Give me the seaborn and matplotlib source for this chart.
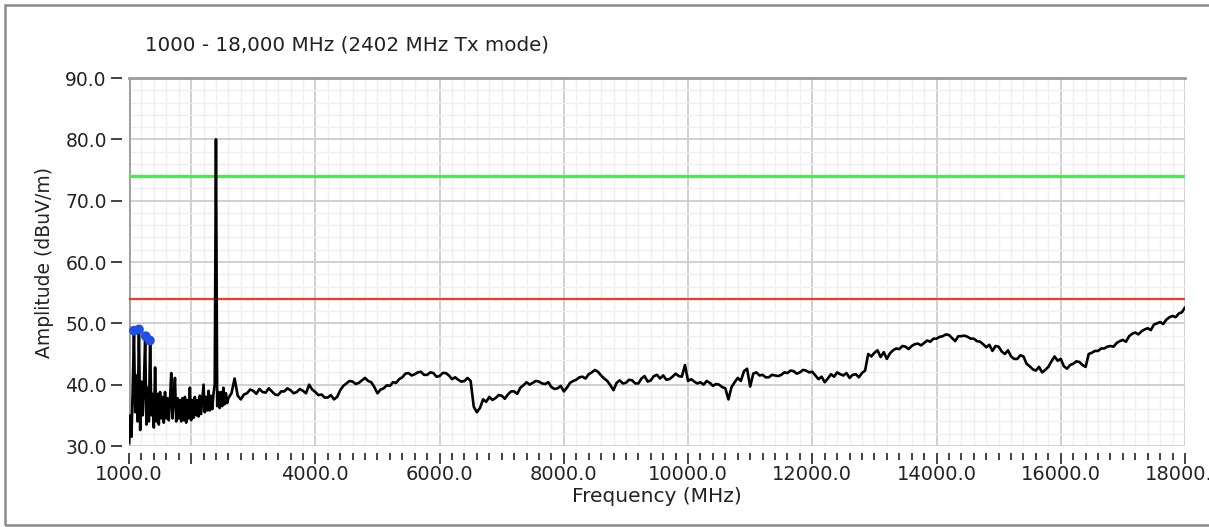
import numpy as np
import pandas as pd
import matplotlib
matplotlib.use("Agg")
import matplotlib.pyplot as plt
from matplotlib.patches import Rectangle
from matplotlib.ticker import MultipleLocator, FixedLocator, FixedFormatter
import seaborn as sns

# ---------------- data ----------------
title = "1000 - 18,000 MHz (2402 MHz Tx mode)"
x_label = "Frequency (MHz)"
y_label = "Amplitude (dBuV/m)"

# noisy low band, 20 MHz spacing (1000 .. 2580 MHz)
low_freq = list(range(1000, 2600, 20))
low_amp = [30.5, 35.0, 31.5, 39.5, 48.4, 35.5, 41.5, 34.0, 48.9, 32.6,
           40.5, 35.0, 40.0, 47.6, 33.5, 39.5, 34.0, 47.2, 35.0, 38.5,
           33.0, 42.8, 34.0, 38.5, 33.5, 38.8, 34.5, 38.0, 33.8, 38.8,
           34.5, 37.8, 34.2, 37.5, 41.9, 34.5, 38.0, 41.1, 34.0, 37.8,
           34.5, 37.5, 34.0, 37.8, 34.2, 38.0, 33.8, 37.5, 34.5, 39.5,
           34.2, 37.5, 34.6, 38.0, 35.0, 37.5, 34.8, 38.2, 35.2, 37.6,
           40.0, 35.5, 38.0, 35.8, 39.0, 35.8, 38.2, 36.0, 38.5, 40.0,
           80.0, 36.5, 38.8, 36.2, 38.8, 36.5, 39.5, 36.8, 38.6, 37.0]

# upper band, 50 MHz spacing (2600 .. 18000 MHz)
high_freq = list(range(2600, 18050, 50))
high_amp = [37.8, 38.6, 41.0, 38.2, 37.6, 38.4, 38.6, 39.2, 39.0, 38.5,
            39.3, 38.8, 38.7, 39.4, 38.9, 38.4, 38.3, 38.9, 38.9, 39.4,
            39.1, 38.6, 38.8, 39.3, 39.0, 38.6, 40.0, 39.2, 38.8, 38.3,
            38.4, 37.9, 37.9, 38.3, 37.6, 38.0, 39.1, 39.8, 40.2, 40.6,
            40.5, 40.1, 40.3, 40.7, 41.1, 40.6, 40.4, 39.6, 38.6, 39.2,
            39.4, 39.9, 39.8, 40.4, 40.3, 40.9, 41.2, 41.8, 41.9, 41.5,
            41.7, 42.0, 42.1, 41.6, 41.6, 42.0, 41.9, 41.3, 41.4, 41.9,
            41.9, 41.5, 40.9, 41.2, 40.8, 40.5, 40.6, 41.1, 40.6, 36.4,
            35.5, 36.2, 37.6, 37.2, 38.0, 37.5, 37.8, 38.3, 38.2, 37.7,
            38.4, 38.9, 38.9, 38.5, 39.5, 39.9, 40.4, 40.0, 40.3, 40.6,
            40.5, 40.2, 40.1, 40.4, 39.6, 39.3, 39.4, 39.8, 38.9, 39.5,
            40.3, 40.6, 40.8, 41.2, 41.3, 41.0, 41.7, 42.0, 42.4, 42.1,
            41.5, 41.0, 40.6, 39.9, 39.1, 40.3, 40.7, 40.2, 40.3, 40.8,
            40.7, 40.2, 40.2, 41.0, 41.4, 40.5, 40.7, 41.4, 41.6, 41.0,
            41.5, 40.8, 40.9, 41.3, 41.8, 41.4, 41.3, 43.2, 40.6, 40.9,
            40.5, 40.2, 40.4, 40.0, 40.6, 40.3, 39.8, 40.1, 40.0, 39.6,
            39.4, 37.6, 39.6, 40.4, 41.1, 40.6, 42.2, 42.6, 39.7, 41.8,
            42.0, 41.5, 41.6, 41.2, 41.2, 41.6, 41.5, 41.4, 41.6, 42.0,
            41.9, 42.3, 42.2, 41.8, 42.0, 42.4, 42.3, 42.0, 42.1, 41.5,
            40.9, 41.3, 40.4, 41.0, 41.7, 41.3, 42.0, 41.7, 41.5, 41.9,
            41.1, 41.6, 41.7, 41.2, 41.9, 42.3, 45.0, 44.6, 45.2, 45.6,
            44.5, 45.3, 44.2, 45.1, 45.6, 45.9, 45.8, 46.3, 46.2, 45.8,
            46.3, 46.6, 46.7, 46.4, 46.8, 47.2, 47.0, 47.5, 47.5, 47.8,
            47.9, 48.2, 48.1, 47.6, 47.1, 47.9, 47.9, 48.0, 47.8, 47.5,
            47.5, 47.1, 47.0, 46.6, 46.1, 46.5, 45.5, 46.3, 46.2, 45.4,
            45.0, 45.6, 44.6, 44.2, 44.2, 44.8, 44.6, 43.4, 43.0, 42.5,
            42.3, 42.9, 42.0, 42.4, 42.9, 43.8, 44.6, 43.9, 44.2, 43.0,
            42.6, 43.2, 43.4, 43.8, 43.7, 43.2, 42.9, 45.0, 45.2, 45.5,
            45.5, 45.9, 45.9, 46.2, 46.3, 46.2, 46.8, 47.1, 47.3, 47.0,
            47.9, 48.3, 48.5, 48.2, 48.7, 49.0, 49.2, 48.9, 49.8, 50.0,
            50.2, 49.9, 50.6, 51.0, 51.2, 51.0, 51.6, 51.8, 52.6]

# peak markers
peak_freq = [1080, 1160, 1270, 1335]
peak_amp = [48.8, 49.0, 47.9, 47.2]

# limit lines
limit_peak = 74.0
limit_avg = 54.0

x_major = [1000, 2000, 4000, 6000, 8000, 10000, 12000, 14000, 16000, 18000]
x_labels = ["1000.0", "", "4000.0", "6000.0", "8000.0", "10000.0",
            "12000.0", "14000.0", "16000.0", "18000.0"]
y_major = [30, 40, 50, 60, 70, 80, 90]

# ---------------- plot ----------------
sns.set_theme(style="white")
plt.rcParams["font.family"] = ["DejaVu Sans"]

W, H = 1209, 527
fig = plt.figure(figsize=(W / 100, H / 100), dpi=100)
ax = fig.add_axes([129 / W, 1 - 446 / H, (1185 - 129) / W, (446 - 78) / H])

df = pd.DataFrame({"freq": low_freq + high_freq, "amp": low_amp + high_amp})
sns.lineplot(data=df, x="freq", y="amp", ax=ax, color="black", lw=1.9,
             estimator=None, sort=False, zorder=4)

ax.axhline(limit_peak, color="#44ee44", lw=2.2, zorder=3)
ax.axhline(limit_avg, color="#f03a2a", lw=1.6, zorder=3)

pk = pd.DataFrame({"freq": peak_freq, "amp": peak_amp})
sns.scatterplot(data=pk, x="freq", y="amp", ax=ax, color="#1f4fe6",
                s=50, edgecolor="none", zorder=5)

ax.set_xlim(1000, 18000)
ax.set_ylim(30, 90)

ax.xaxis.set_major_locator(FixedLocator(x_major))
ax.xaxis.set_major_formatter(FixedFormatter(x_labels))
ax.xaxis.set_minor_locator(MultipleLocator(200))
ax.yaxis.set_major_locator(FixedLocator(y_major))
ax.yaxis.set_major_formatter(matplotlib.ticker.FormatStrFormatter("%.1f"))
ax.yaxis.set_minor_locator(MultipleLocator(2))

ax.grid(which="major", color="#d0d0d0", lw=1.4, zorder=1)
ax.grid(which="minor", color="#efefef", lw=1.0, zorder=0)
ax.set_axisbelow(True)

for side in ["left", "bottom"]:
    ax.spines[side].set_position(("outward", 5))
    ax.spines[side].set_color("none")
ax.spines["right"].set_visible(False)
ax.spines["top"].set_color("#9a9a9a")
ax.spines["top"].set_linewidth(2)
ax.axvline(1000, color="#9a9a9a", lw=2, zorder=2)

ax.tick_params(axis="both", which="major", direction="out", length=8,
               width=1.2, color="#222222", labelcolor="#222222",
               left=True, bottom=True)
ax.tick_params(axis="x", which="major", labelsize=14, pad=1)
ax.tick_params(axis="y", which="major", labelsize=13.5, pad=3)
ax.tick_params(axis="x", which="minor", direction="out", length=5,
               width=1.2, color="#222222", bottom=True)
ax.tick_params(axis="y", which="minor", left=False)

ax.set_xlabel(x_label, fontsize=14.5, color="#222222", labelpad=2)
ax.set_ylabel(y_label, fontsize=13.5, color="#222222", labelpad=8)

fig.text(145 / W, 1 - 45 / H, title, fontsize=14.3, color="#222222",
         ha="left", va="center")

fig.patches.append(Rectangle((5 / W, 2 / H), 1.1, 1 - 7 / H,
                             transform=fig.transFigure, fill=False,
                             edgecolor="#8a8a8a", lw=1.8))

fig.savefig("out.png", dpi=100, facecolor="white")
